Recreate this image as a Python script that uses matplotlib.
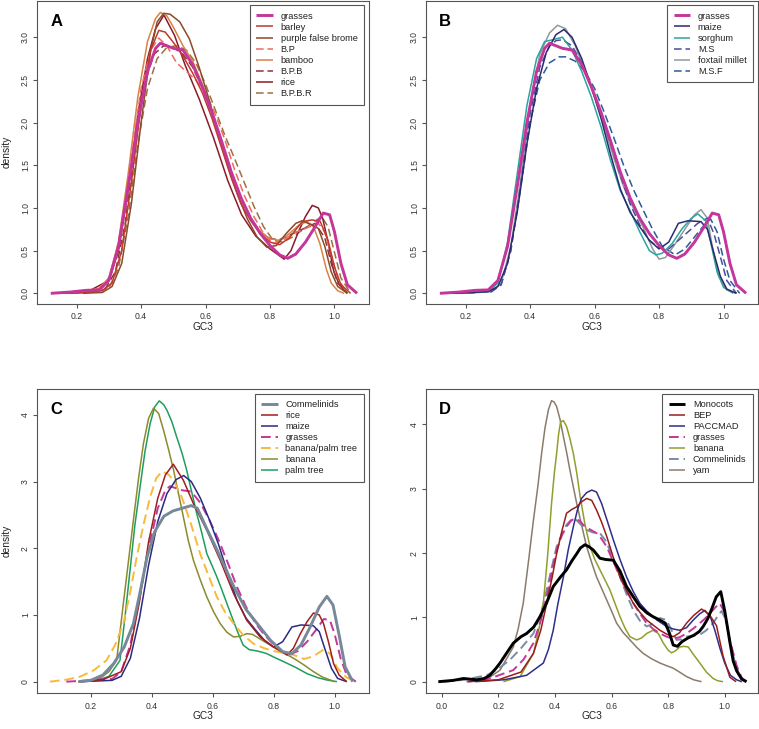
import matplotlib
matplotlib.use('Agg')
import matplotlib.pyplot as plt

plt.rcParams['font.family'] = ['Liberation Sans', 'DejaVu Sans']

# density curves (x = GC3, y = density)
grasses_x = [0.12, 0.18, 0.23, 0.27, 0.30, 0.33, 0.36, 0.39, 0.42, 0.445, 0.46, 0.48, 0.50, 0.53, 0.56, 0.59,
             0.62, 0.65, 0.68, 0.71, 0.74, 0.77, 0.80, 0.83, 0.855, 0.88, 0.91, 0.94, 0.965, 0.985, 1.00, 1.02,
             1.04, 1.07]
grasses_y = [0, 0.015, 0.035, 0.04, 0.15, 0.55, 1.25, 2.0, 2.6, 2.87, 2.93, 2.90, 2.87, 2.85, 2.68, 2.42,
             2.12, 1.78, 1.42, 1.12, 0.88, 0.70, 0.56, 0.45, 0.41, 0.46, 0.60, 0.78, 0.94, 0.92, 0.72, 0.35,
             0.10, 0.0]

barley_x = [0.14, 0.22, 0.28, 0.31, 0.34, 0.37, 0.40, 0.43, 0.455, 0.475, 0.50, 0.53, 0.56, 0.59, 0.62, 0.65,
            0.68, 0.71, 0.74, 0.77, 0.80, 0.83, 0.86, 0.90, 0.93, 0.956, 0.98, 1.00, 1.02, 1.05]
barley_y = [0, 0.01, 0.03, 0.12, 0.5, 1.3, 2.2, 2.85, 3.08, 3.06, 2.94, 2.78, 2.58, 2.35, 2.05, 1.7,
            1.35, 1.05, 0.85, 0.70, 0.60, 0.57, 0.65, 0.84, 0.86, 0.84, 0.62, 0.31, 0.10, 0]

brome_x = [0.22, 0.28, 0.31, 0.34, 0.37, 0.40, 0.43, 0.45, 0.47, 0.49, 0.52, 0.55, 0.58, 0.61, 0.64, 0.67,
           0.70, 0.73, 0.76, 0.79, 0.82, 0.85, 0.88, 0.90, 0.93, 0.95, 0.97, 0.99, 1.01, 1.04]
brome_y = [0, 0.01, 0.08, 0.35, 1.05, 2.0, 2.85, 3.18, 3.28, 3.27, 3.18, 2.98, 2.65, 2.28, 1.88, 1.48,
           1.15, 0.87, 0.66, 0.54, 0.56, 0.70, 0.82, 0.85, 0.80, 0.76, 0.55, 0.25, 0.08, 0]

bp_x = [0.12, 0.18, 0.24, 0.28, 0.31, 0.34, 0.37, 0.40, 0.43, 0.455, 0.48, 0.51, 0.54, 0.57, 0.60, 0.63,
        0.66, 0.69, 0.72, 0.75, 0.78, 0.81, 0.84, 0.87, 0.91, 0.95, 0.97, 0.99, 1.01, 1.04]
bp_y = [0, 0.01, 0.03, 0.06, 0.25, 0.8, 1.6, 2.4, 2.85, 2.99, 2.9, 2.7, 2.6, 2.5, 2.35, 2.1,
        1.8, 1.45, 1.15, 0.9, 0.7, 0.58, 0.62, 0.70, 0.76, 0.82, 0.72, 0.45, 0.18, 0]

bamboo_x = [0.14, 0.22, 0.27, 0.30, 0.33, 0.36, 0.39, 0.42, 0.445, 0.46, 0.48, 0.50, 0.53, 0.56, 0.59, 0.62,
            0.65, 0.68, 0.71, 0.74, 0.77, 0.80, 0.83, 0.86, 0.89, 0.915, 0.935, 0.955, 0.975, 0.99, 1.01, 1.03]
bamboo_y = [0, 0.02, 0.06, 0.18, 0.6, 1.4, 2.3, 2.95, 3.22, 3.29, 3.25, 3.12, 2.9, 2.72, 2.45, 2.12,
            1.76, 1.42, 1.12, 0.88, 0.72, 0.64, 0.62, 0.70, 0.80, 0.84, 0.78, 0.58, 0.28, 0.12, 0.03, 0]

bpb_x = [0.18, 0.25, 0.29, 0.32, 0.35, 0.38, 0.41, 0.44, 0.47, 0.50, 0.53, 0.56, 0.59, 0.62, 0.65, 0.68,
         0.71, 0.74, 0.77, 0.80, 0.83, 0.86, 0.90, 0.94, 0.97, 0.99, 1.01, 1.04]
bpb_y = [0, 0.02, 0.06, 0.25, 0.8, 1.7, 2.45, 2.8, 2.9, 2.88, 2.8, 2.65, 2.4, 2.1, 1.75, 1.4,
         1.1, 0.88, 0.72, 0.64, 0.63, 0.68, 0.75, 0.82, 0.65, 0.35, 0.12, 0]

rice_x = [0.16, 0.24, 0.30, 0.33, 0.36, 0.39, 0.42, 0.445, 0.471, 0.504, 0.537, 0.581, 0.625, 0.669,
          0.712, 0.756, 0.80, 0.844, 0.865, 0.888, 0.91, 0.931, 0.95, 0.964, 0.98, 0.997, 1.015, 1.04]
rice_y = [0, 0.03, 0.15, 0.5, 1.2, 2.1, 2.75, 3.1, 3.26, 3.02, 2.67, 2.27, 1.82, 1.32,
          0.92, 0.67, 0.52, 0.40, 0.50, 0.72, 0.90, 1.03, 1.0, 0.87, 0.60, 0.27, 0.10, 0]

bpbr_x = [0.20, 0.26, 0.30, 0.33, 0.36, 0.39, 0.42, 0.45, 0.48, 0.51, 0.54, 0.57, 0.60, 0.63, 0.66, 0.69,
          0.72, 0.75, 0.78, 0.81, 0.84, 0.87, 0.90, 0.93, 0.96, 0.98, 1.00, 1.02, 1.05]
bpbr_y = [0, 0.02, 0.06, 0.3, 0.9, 1.75, 2.4, 2.75, 2.88, 2.9, 2.85, 2.7, 2.45, 2.15, 1.85, 1.58,
          1.3, 1.02, 0.78, 0.62, 0.60, 0.66, 0.74, 0.82, 0.90, 0.78, 0.48, 0.18, 0]

maize_x = [0.16, 0.22, 0.27, 0.30, 0.33, 0.36, 0.39, 0.42, 0.45, 0.48, 0.505, 0.53, 0.56, 0.59, 0.62, 0.65,
           0.68, 0.71, 0.74, 0.77, 0.80, 0.83, 0.86, 0.89, 0.93, 0.95, 0.97, 0.99, 1.01, 1.04]
maize_y = [0, 0.01, 0.02, 0.08, 0.35, 0.95, 1.75, 2.4, 2.82, 3.03, 3.09, 3.0, 2.75, 2.42, 2.05, 1.62,
           1.22, 0.95, 0.78, 0.62, 0.52, 0.60, 0.82, 0.85, 0.84, 0.75, 0.47, 0.20, 0.05, 0]

sorghum_x = [0.16, 0.22, 0.27, 0.30, 0.33, 0.36, 0.39, 0.42, 0.445, 0.47, 0.50, 0.53, 0.56, 0.59, 0.62, 0.65,
             0.68, 0.71, 0.74, 0.77, 0.79, 0.81, 0.84, 0.87, 0.90, 0.92, 0.945, 0.96, 0.98, 1.00, 1.03]
sorghum_y = [0, 0.01, 0.02, 0.12, 0.6, 1.4, 2.2, 2.75, 2.95, 2.97, 3.0, 2.85, 2.6, 2.3, 1.95, 1.55,
             1.2, 0.97, 0.72, 0.50, 0.45, 0.47, 0.58, 0.75, 0.88, 0.93, 0.85, 0.60, 0.25, 0.07, 0]

ms_x = [0.17, 0.23, 0.28, 0.31, 0.34, 0.37, 0.40, 0.43, 0.46, 0.48, 0.50, 0.53, 0.56, 0.59, 0.62, 0.65,
        0.68, 0.71, 0.74, 0.77, 0.80, 0.83, 0.86, 0.89, 0.92, 0.95, 0.97, 0.985, 1.01, 1.04]
ms_y = [0, 0.01, 0.02, 0.10, 0.5, 1.25, 2.1, 2.65, 2.9, 2.96, 2.97, 2.9, 2.7, 2.42, 2.1, 1.75,
        1.38, 1.05, 0.80, 0.62, 0.53, 0.52, 0.62, 0.72, 0.82, 0.88, 0.70, 0.50, 0.15, 0]

foxtail_x = [0.18, 0.24, 0.28, 0.31, 0.34, 0.37, 0.40, 0.43, 0.46, 0.485, 0.51, 0.54, 0.57, 0.60, 0.63, 0.66,
             0.69, 0.72, 0.75, 0.78, 0.80, 0.82, 0.85, 0.88, 0.91, 0.93, 0.95, 0.965, 0.985, 1.01, 1.04]
foxtail_y = [0, 0.01, 0.02, 0.12, 0.55, 1.3, 2.2, 2.8, 3.05, 3.14, 3.1, 2.9, 2.6, 2.3, 1.95, 1.58,
             1.25, 1.0, 0.78, 0.52, 0.40, 0.42, 0.58, 0.75, 0.92, 0.98, 0.88, 0.55, 0.20, 0.04, 0]

msf_x = [0.17, 0.23, 0.28, 0.31, 0.34, 0.37, 0.40, 0.43, 0.46, 0.49, 0.51, 0.54, 0.57, 0.60, 0.63, 0.66,
         0.69, 0.72, 0.75, 0.78, 0.81, 0.85, 0.88, 0.91, 0.94, 0.96, 0.98, 1.00, 1.02, 1.05]
msf_y = [0, 0.01, 0.02, 0.10, 0.5, 1.22, 2.0, 2.5, 2.7, 2.77, 2.77, 2.72, 2.6, 2.4, 2.12, 1.82,
         1.5, 1.22, 0.98, 0.75, 0.55, 0.45, 0.52, 0.66, 0.80, 0.87, 0.72, 0.40, 0.15, 0]

commelinids_x = [0.16, 0.20, 0.24, 0.275, 0.31, 0.34, 0.36, 0.385, 0.41, 0.44, 0.47, 0.50, 0.53, 0.55, 0.58,
                 0.61, 0.64, 0.67, 0.71, 0.75, 0.79, 0.83, 0.86, 0.89, 0.92, 0.95, 0.975, 0.995, 1.015, 1.035,
                 1.06]
commelinids_y = [0, 0.02, 0.10, 0.27, 0.52, 0.87, 1.3, 1.87, 2.25, 2.48, 2.56, 2.6, 2.64, 2.6, 2.3,
                 2.02, 1.72, 1.42, 1.08, 0.85, 0.62, 0.45, 0.42, 0.55, 0.82, 1.12, 1.28, 1.15, 0.70, 0.22, 0]

banana_palm_x = [0.066, 0.12, 0.165, 0.21, 0.252, 0.28, 0.307, 0.33, 0.351, 0.373, 0.395, 0.415, 0.433, 0.452,
                 0.472, 0.50, 0.53, 0.559, 0.59, 0.614, 0.64, 0.669, 0.70, 0.734, 0.77, 0.80, 0.835, 0.866, 0.90,
                 0.93, 0.964, 0.985, 1.01, 1.04, 1.074]
banana_palm_y = [0, 0.03, 0.075, 0.17, 0.32, 0.55, 0.87, 1.35, 1.87, 2.35, 2.77, 3.05, 3.15, 3.12,
                 3.02, 2.75, 2.35, 1.92, 1.55, 1.27, 1.05, 0.87, 0.70, 0.57, 0.50, 0.46, 0.43, 0.40, 0.34,
                 0.38, 0.48, 0.42, 0.20, 0.06, 0]

banana_c_x = [0.17, 0.23, 0.26, 0.285, 0.307, 0.325, 0.34, 0.357, 0.373, 0.39, 0.406, 0.423, 0.439, 0.456,
              0.472, 0.488, 0.504, 0.52, 0.537, 0.56, 0.581, 0.603, 0.625, 0.647, 0.669, 0.69, 0.712, 0.73,
              0.745, 0.77, 0.80, 0.83, 0.866, 0.90, 0.931, 0.96, 0.986, 1.0]
banana_c_y = [0, 0.05, 0.15, 0.32, 1.17, 1.85, 2.42, 3.05, 3.57, 3.95, 4.10, 4.02, 3.77, 3.47,
              3.17, 2.82, 2.47, 2.12, 1.82, 1.52, 1.27, 1.05, 0.87, 0.74, 0.67, 0.68, 0.72, 0.71,
              0.67, 0.60, 0.52, 0.44, 0.35, 0.25, 0.15, 0.07, 0.025, 0]

palm_x = [0.17, 0.22, 0.26, 0.296, 0.312, 0.329, 0.345, 0.362, 0.378, 0.395, 0.41, 0.425, 0.44, 0.45, 0.466,
          0.482, 0.50, 0.515, 0.53, 0.548, 0.565, 0.581, 0.6, 0.614, 0.63, 0.647, 0.665, 0.68, 0.70, 0.72,
          0.734, 0.756, 0.778, 0.80, 0.833, 0.87, 0.91, 0.945, 0.975, 1.008]
palm_y = [0, 0.02, 0.08, 0.32, 0.95, 1.67, 2.35, 2.92, 3.45, 3.87, 4.12, 4.21, 4.15, 4.07, 3.9,
          3.67, 3.42, 3.17, 2.87, 2.52, 2.22, 1.92, 1.72, 1.57, 1.38, 1.17, 0.95, 0.77, 0.55, 0.48,
          0.47, 0.45, 0.42, 0.37, 0.30, 0.22, 0.12, 0.06, 0.025, 0]

monocots_x = [-0.012, 0.04, 0.077, 0.10, 0.124, 0.15, 0.17, 0.19, 0.206, 0.23, 0.253, 0.28, 0.30, 0.325, 0.347,
              0.37, 0.394, 0.42, 0.441, 0.46, 0.477, 0.49, 0.506, 0.52, 0.535, 0.559, 0.58, 0.606, 0.63, 0.653,
              0.677, 0.70, 0.725, 0.747, 0.77, 0.79, 0.805, 0.818, 0.833, 0.848, 0.87, 0.89, 0.91, 0.924, 0.94,
              0.953, 0.97, 0.986, 1.0, 1.018, 1.03, 1.042, 1.06, 1.077]
monocots_y = [0, 0.02, 0.05, 0.04, 0.03, 0.05, 0.10, 0.2, 0.29, 0.45, 0.60, 0.70, 0.75, 0.85, 1.01,
              1.22, 1.48, 1.63, 1.74, 1.88, 1.99, 2.08, 2.13, 2.10, 2.05, 1.92, 1.90, 1.89, 1.72, 1.48,
              1.32, 1.17, 1.07, 1.01, 0.96, 0.91, 0.75, 0.57, 0.55, 0.62, 0.68, 0.72, 0.78, 0.86, 0.98,
              1.12, 1.32, 1.40, 1.10, 0.62, 0.32, 0.17, 0.04, 0]

bep_x = [0.094, 0.20, 0.28, 0.324, 0.35, 0.371, 0.39, 0.406, 0.425, 0.441, 0.46, 0.477, 0.495, 0.512, 0.53,
         0.547, 0.565, 0.583, 0.605, 0.63, 0.655, 0.677, 0.70, 0.724, 0.75, 0.771, 0.795, 0.818, 0.84, 0.865,
         0.89, 0.918, 0.945, 0.971, 0.994, 1.018, 1.04]
bep_y = [0, 0.03, 0.15, 0.44, 0.80, 1.22, 1.62, 1.99, 2.35, 2.62, 2.68, 2.72, 2.80, 2.85, 2.82,
         2.67, 2.48, 2.26, 1.95, 1.63, 1.40, 1.22, 1.08, 0.96, 0.87, 0.80, 0.74, 0.70, 0.76, 0.91,
         1.03, 1.13, 1.05, 0.87, 0.40, 0.07, 0]

paccmad_x = [0.118, 0.22, 0.30, 0.359, 0.377, 0.394, 0.41, 0.43, 0.447, 0.465, 0.48, 0.494, 0.512, 0.53, 0.547,
             0.565, 0.585, 0.606, 0.63, 0.653, 0.677, 0.70, 0.724, 0.747, 0.77, 0.794, 0.818, 0.841, 0.865,
             0.889, 0.91, 0.93, 0.95, 0.965, 0.983, 1.0, 1.02, 1.042, 1.06]
paccmad_y = [0, 0.03, 0.10, 0.29, 0.50, 0.80, 1.20, 1.63, 2.05, 2.41, 2.68, 2.85, 2.94, 2.98, 2.95,
             2.77, 2.50, 2.21, 1.90, 1.63, 1.40, 1.22, 1.10, 1.01, 0.93, 0.86, 0.82, 0.80, 0.84,
             0.96, 1.05, 1.11, 1.0, 0.80, 0.52, 0.29, 0.10, 0.03, 0]

grasses_d_x = [0.088, 0.17, 0.253, 0.29, 0.324, 0.35, 0.371, 0.39, 0.406, 0.425, 0.441, 0.456, 0.47, 0.488,
               0.506, 0.527, 0.547, 0.565, 0.583, 0.605, 0.63, 0.653, 0.677, 0.70, 0.724, 0.747, 0.771, 0.795,
               0.818, 0.84, 0.865, 0.89, 0.912, 0.93, 0.947, 0.968, 0.982, 1.0, 1.018, 1.042, 1.06, 1.077]
grasses_d_y = [0, 0.05, 0.18, 0.35, 0.60, 0.95, 1.32, 1.72, 2.05, 2.28, 2.41, 2.50, 2.54, 2.50,
               2.41, 2.36, 2.31, 2.22, 2.10, 1.88, 1.63, 1.42, 1.22, 1.06, 0.91, 0.82, 0.75, 0.70,
               0.67, 0.69, 0.75, 0.83, 0.91, 0.98, 1.06, 1.16, 1.22, 1.08, 0.65, 0.25, 0.06, 0]

banana_d_x = [0.218, 0.277, 0.324, 0.342, 0.359, 0.374, 0.388, 0.398, 0.406, 0.413, 0.42, 0.43, 0.441, 0.453,
              0.465, 0.477, 0.489, 0.506, 0.524, 0.541, 0.559, 0.577, 0.594, 0.612, 0.63, 0.648, 0.665, 0.689,
              0.706, 0.724, 0.747, 0.765, 0.783, 0.80, 0.812, 0.826, 0.841, 0.856, 0.871, 0.89, 0.912, 0.935,
              0.959, 0.975, 0.994]
banana_d_y = [0, 0.08, 0.44, 0.78, 1.22, 1.95, 2.77, 3.25, 3.55, 3.85, 4.04, 4.06, 3.97, 3.78,
              3.55, 3.25, 2.88, 2.45, 2.10, 1.90, 1.74, 1.58, 1.43, 1.22, 1.01, 0.83, 0.70, 0.65,
              0.68, 0.75, 0.80, 0.75, 0.60, 0.49, 0.45, 0.48, 0.54, 0.55, 0.54, 0.42, 0.29, 0.15,
              0.05, 0.015, 0]

commelinids_d_x = [0.006, 0.08, 0.159, 0.20, 0.241, 0.28, 0.324, 0.35, 0.371, 0.39, 0.406, 0.425, 0.441, 0.456,
                   0.47, 0.49, 0.512, 0.535, 0.559, 0.578, 0.594, 0.612, 0.63, 0.653, 0.677, 0.70, 0.724, 0.747,
                   0.771, 0.794, 0.812, 0.83, 0.848, 0.865, 0.89, 0.912, 0.935, 0.959, 0.975, 0.989, 1.005,
                   1.018, 1.035, 1.053, 1.075]
commelinids_d_y = [0, 0.03, 0.10, 0.20, 0.34, 0.52, 0.75, 1.05, 1.43, 1.80, 2.10, 2.30, 2.44, 2.51,
                   2.54, 2.45, 2.36, 2.32, 2.31, 2.20, 2.05, 1.85, 1.63, 1.36, 1.11, 0.95, 0.86, 0.90,
                   0.99, 0.96, 0.80, 0.65, 0.66, 0.70, 0.72, 0.73, 0.80, 0.91, 1.02, 1.10, 0.95,
                   0.62, 0.32, 0.08, 0]

yam_x = [0.147, 0.206, 0.253, 0.27, 0.288, 0.306, 0.324, 0.34, 0.353, 0.365, 0.377, 0.388, 0.397, 0.406, 0.418,
         0.43, 0.442, 0.453, 0.465, 0.477, 0.495, 0.512, 0.53, 0.547, 0.565, 0.583, 0.60, 0.618, 0.64, 0.665,
         0.69, 0.712, 0.74, 0.771, 0.80, 0.818, 0.84, 0.865, 0.89, 0.918]
yam_y = [0, 0.18, 0.54, 0.82, 1.22, 1.85, 2.51, 3.05, 3.55, 3.95, 4.23, 4.37, 4.35, 4.28, 4.08,
         3.81, 3.55, 3.29, 3.03, 2.77, 2.42, 2.10, 1.85, 1.63, 1.45, 1.27, 1.10, 0.91, 0.77, 0.65,
         0.53, 0.44, 0.36, 0.29, 0.24, 0.21, 0.15, 0.08, 0.03, 0]

DASH = (0, (5, 2.5))
THIN = 1.1
THICK = 2.1

# label, x, y, colour, width, linestyle
panel_a = [
    ('grasses', grasses_x, grasses_y, '#C4369A', THICK, '-'),
    ('barley', barley_x, barley_y, '#C0392B', THIN, '-'),
    ('purple false brome', brome_x, brome_y, '#8B4A2B', THIN, '-'),
    ('B.P', bp_x, bp_y, '#EE6A60', THIN, DASH),
    ('bamboo', bamboo_x, bamboo_y, '#D98245', THIN, '-'),
    ('B.P.B', bpb_x, bpb_y, '#8B3636', THIN, DASH),
    ('rice', rice_x, rice_y, '#8B1A2A', THIN, '-'),
    ('B.P.B.R', bpbr_x, bpbr_y, '#9C7040', THIN, DASH),
]
panel_b = [
    ('grasses', grasses_x, grasses_y, '#C4369A', THICK, '-'),
    ('maize', maize_x, maize_y, '#2C2A6E', THIN, '-'),
    ('sorghum', sorghum_x, sorghum_y, '#2BA4A0', THIN, '-'),
    ('M.S', ms_x, ms_y, '#4C4C9E', THIN, DASH),
    ('foxtail millet', foxtail_x, foxtail_y, '#8E9B9B', THIN, '-'),
    ('M.S.F', msf_x, msf_y, '#2B5C9A', THIN, DASH),
]
panel_c = [
    ('Commelinids', commelinids_x, commelinids_y, '#778899', THICK, '-'),
    ('rice', rice_x, rice_y, '#A01E1E', THIN, '-'),
    ('maize', maize_x, maize_y, '#2A2A80', THIN, '-'),
    ('grasses', grasses_x, grasses_y, '#C4369A', 1.4, DASH),
    ('banana/palm tree', banana_palm_x, banana_palm_y, '#F9B93A', 1.4, DASH),
    ('banana', banana_c_x, banana_c_y, '#8B8B2E', THIN, '-'),
    ('palm tree', palm_x, palm_y, '#1E9E5E', THIN, '-'),
]
panel_d = [
    ('Monocots', monocots_x, monocots_y, 'black', THICK, '-'),
    ('BEP', bep_x, bep_y, '#9B1C1C', THIN, '-'),
    ('PACCMAD', paccmad_x, paccmad_y, '#2E2E8B', THIN, '-'),
    ('grasses', grasses_d_x, grasses_d_y, '#C4369A', 1.4, DASH),
    ('banana', banana_d_x, banana_d_y, '#8FA02C', THIN, '-'),
    ('Commelinids', commelinids_d_x, commelinids_d_y, '#7A8CA5', 1.4, DASH),
    ('yam', yam_x, yam_y, '#8B7B6B', THIN, '-'),
]

fig = plt.figure(figsize=(7.59, 7.29), dpi=100)
W = 0.4366
axes = {
    'A': fig.add_axes([0.0491, 0.5830, W, 0.4163]),
    'B': fig.add_axes([0.5617, 0.5830, W, 0.4163]),
    'C': fig.add_axes([0.0491, 0.0490, W, 0.4174]),
    'D': fig.add_axes([0.5617, 0.0490, W, 0.4174]),
}


def draw_panel(ax, letter, curves, xlim, ylim, xticks, yticks, xfmt, yfmt, ylabel):
    n = len(curves)
    for i, (label, xs, ys, color, lw, ls) in enumerate(curves):
        z = 3 + (n if lw >= THICK else n - i)
        ax.plot(xs, ys, color=color, lw=lw, linestyle=ls, label=label, zorder=z,
                solid_capstyle='butt', dash_capstyle='butt')
    ax.set_xlim(*xlim)
    ax.set_ylim(*ylim)
    ax.set_xticks(xticks)
    ax.set_xticklabels([xfmt.format(v) for v in xticks])
    ax.set_yticks(yticks)
    ax.set_yticklabels([yfmt.format(v) for v in yticks], rotation=90, va='center')
    for sp in ax.spines.values():
        sp.set_color('#555555')
        sp.set_linewidth(0.8)
    ax.tick_params(direction='out', length=2.9, width=0.8, color='#555555',
                   labelsize=6.2, labelcolor='#333333')
    ax.tick_params(axis='x', pad=3.2)
    ax.tick_params(axis='y', pad=2.4)
    ax.set_xlabel('GC3', fontsize=7.3, color='#222222')
    ax.xaxis.set_label_coords(0.5, -0.058)
    if ylabel:
        ax.set_ylabel('density', fontsize=7.3, color='#222222')
        ax.yaxis.set_label_coords(-0.078, 0.5)
    ax.text(0.057, 0.932, letter, transform=ax.transAxes, fontsize=12, fontweight='bold',
            ha='center', va='center')
    leg = ax.legend(loc='upper right', fontsize=6.7, handlelength=1.8, handletextpad=0.8,
                    labelspacing=0.22, borderpad=0.7, borderaxespad=0.5, fancybox=False,
                    framealpha=1, edgecolor='#555555')
    leg.get_frame().set_linewidth(0.8)
    for t in leg.get_texts():
        t.set_color('#222222')


xt = [0.2, 0.4, 0.6, 0.8, 1.0]
yt_ab = [0.0, 0.5, 1.0, 1.5, 2.0, 2.5, 3.0]
draw_panel(axes['A'], 'A', panel_a, (0.078, 1.106), (-0.125, 3.43), xt, yt_ab, '{:.1f}', '{:.1f}', True)
draw_panel(axes['B'], 'B', panel_b, (0.078, 1.106), (-0.125, 3.43), xt, yt_ab, '{:.1f}', '{:.1f}', False)
draw_panel(axes['C'], 'C', panel_c, (0.0246, 1.112), (-0.174, 4.388), xt, [0, 1, 2, 3, 4],
           '{:.1f}', '{:d}', True)
draw_panel(axes['D'], 'D', panel_d, (-0.0544, 1.1165), (-0.180, 4.552),
           [0.0, 0.2, 0.4, 0.6, 0.8, 1.0], [0, 1, 2, 3, 4], '{:.1f}', '{:d}', False)

fig.savefig('out.png', dpi=100)
